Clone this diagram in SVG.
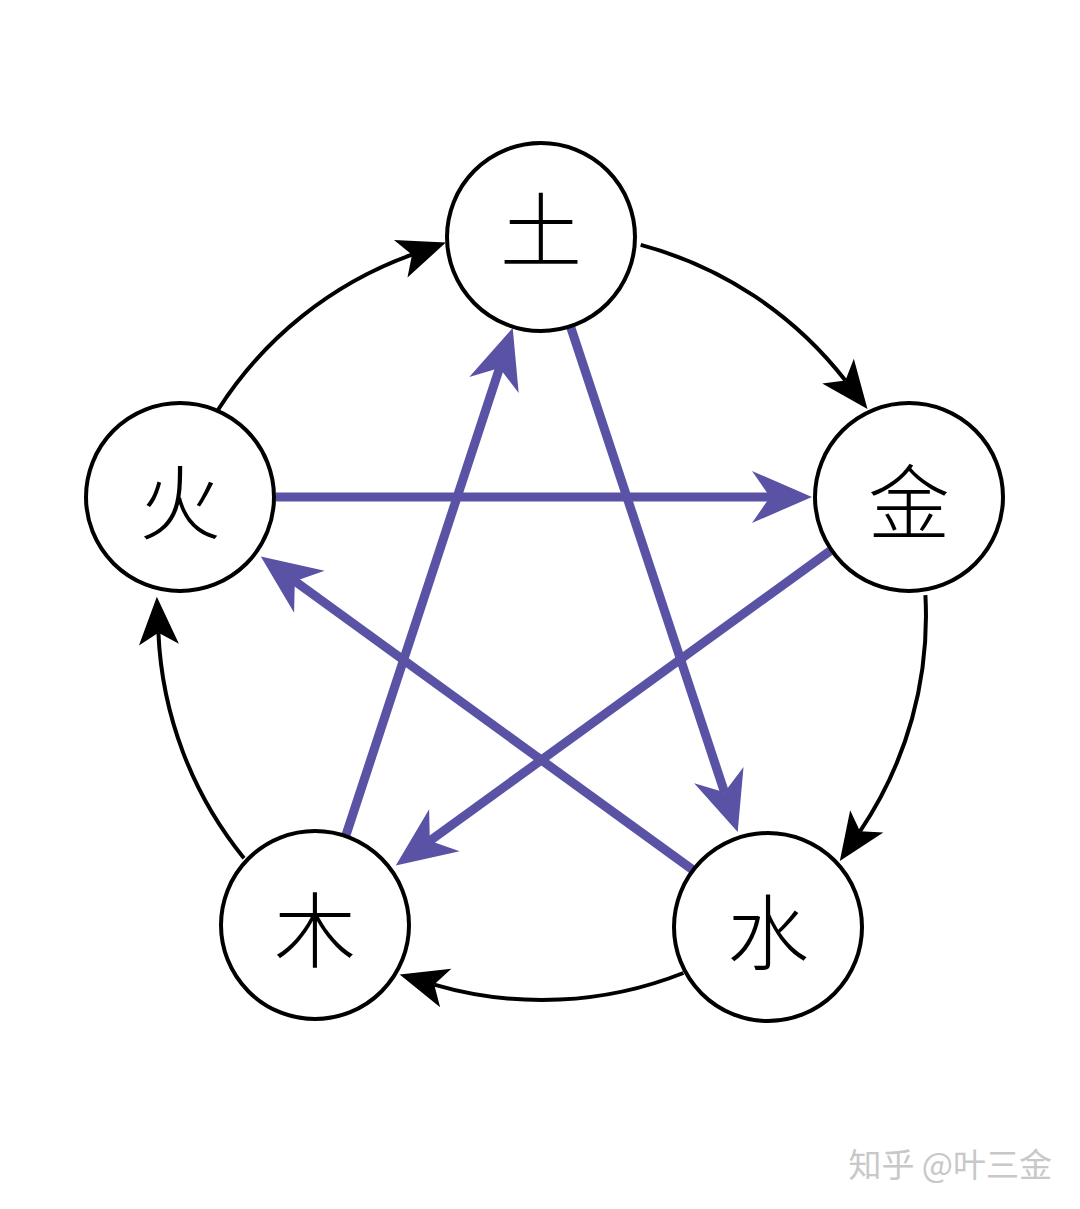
<svg xmlns="http://www.w3.org/2000/svg" width="1080" height="1209" viewBox="0 0 1080 1209">
<style>
.node circle{fill:#fff;stroke:#000;stroke-width:4}
.node text{font-family:"Noto Sans CJK SC","Noto Sans CJK JP",sans-serif;font-size:82px;font-weight:300;fill:#000;text-anchor:middle;dominant-baseline:central}
.gen{fill:none;stroke:#000;stroke-width:4;marker-end:url(#blk)}
.ctl{fill:none;stroke:#5a53a5;stroke-width:9;marker-end:url(#pur)}
.wm{font-family:"Noto Sans CJK SC",sans-serif;font-size:33px;fill:#c8c8c8;text-anchor:end}
</style>
<defs>
<marker id="blk" markerUnits="userSpaceOnUse" viewBox="-15 -25 55 50" markerWidth="55" markerHeight="50" refX="0" refY="0" orient="auto">
<path d="M36,0 L-12,-20 L0,0 L-12,20 Z" fill="#000"/>
</marker>
<marker id="pur" markerUnits="userSpaceOnUse" viewBox="-22 -30 68 60" markerWidth="68" markerHeight="60" refX="0" refY="0" orient="auto">
<path d="M42,0 L-18,-26 L0,0 L-18,26 Z" fill="#5a53a5"/>
</marker>
</defs>
<g id="connectors">
<path class="gen" d="M640.7,244.9 A384,384 0 0 1 845.4,380.6"/>
<path class="gen" d="M925.4,595.2 A384,384 0 0 1 860,831.3"/>
<path class="gen" d="M683.4,973 A384,384 0 0 1 434.2,984.6"/>
<path class="gen" d="M244,858.2 A384,384 0 0 1 158.4,632.7"/>
<path class="gen" d="M218.1,409.7 A384,384 0 0 1 412,254.7"/>
<path class="ctl" d="M276,497 L770,497"/>
<path class="ctl" d="M346,835 L499.6,367.9"/>
<path class="ctl" d="M570,325 L724.5,792.2"/>
<path class="ctl" d="M830,551 L429.8,840.8"/>
<path class="ctl" d="M693,870 L294.8,581.2"/>
</g>
<g id="node-tu" class="node"><circle cx="541" cy="237" r="94"/><text x="541" y="225">土</text></g>
<g id="node-jin" class="node"><circle cx="909" cy="497" r="94"/><text x="909" y="497">金</text></g>
<g id="node-shui" class="node"><circle cx="768" cy="927" r="94"/><text x="768" y="927">水</text></g>
<g id="node-mu" class="node"><circle cx="315" cy="925" r="94"/><text x="315" y="925">木</text></g>
<g id="node-huo" class="node"><circle cx="180" cy="497" r="94"/><text x="180" y="497">火</text></g>
<text class="wm" x="1052" y="1177">知乎 @叶三金</text>
</svg>
